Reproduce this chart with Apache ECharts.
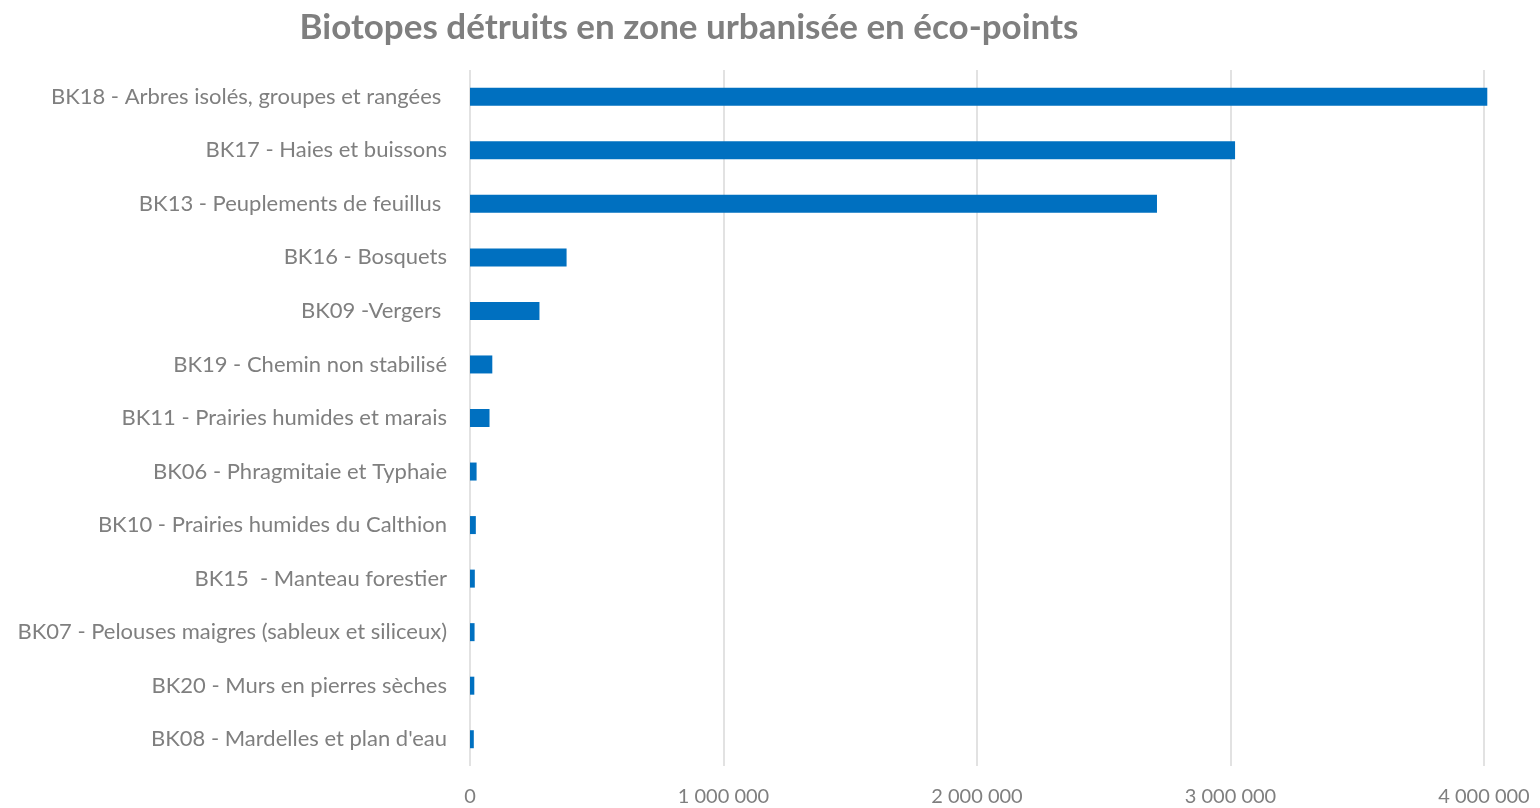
<!DOCTYPE html>
<html>
<head>
<meta charset="utf-8">
<title>Biotopes détruits en zone urbanisée</title>
<script src="https://cdn.jsdelivr.net/npm/echarts@6/dist/echarts.min.js"></script>
<style>
  html, body { margin: 0; padding: 0; background: #fff; }
  #chart { width: 1540px; height: 808px; }
</style>
</head>
<body>
<div id="chart"></div>
<script>
// categories from top to bottom
var categories = [
    'BK18 - Arbres isolés, groupes et rangées ',
    'BK17 - Haies et buissons',
    'BK13 - Peuplements de feuillus ',
    'BK16 - Bosquets',
    'BK09 -Vergers ',
    'BK19 - Chemin non stabilisé',
    'BK11 - Prairies humides et marais',
    'BK06 - Phragmitaie et Typhaie',
    'BK10 - Prairies humides du Calthion',
    'BK15  - Manteau forestier',
    'BK07 - Pelouses maigres (sableux et siliceux)',
    'BK20 - Murs en pierres sèches',
    "BK08 - Mardelles et plan d'eau"
];
// eco-points
var ecoPoints = [4013000, 3018000, 2710000, 381000, 274000, 88000, 77000, 26000, 23000, 19000, 18000, 17000, 15000];
var xTicks = [0, 1000000, 2000000, 3000000, 4000000];

var fontFam = 'Lato, "Open Sans", sans-serif';

function fmt(v) {
    return String(v).replace(/\B(?=(\d{3})+(?!\d))/g, ' ');
}

var chart = echarts.init(document.getElementById('chart'));
chart.setOption({
    animation: false,
    backgroundColor: '#fff',
    title: {
        text: 'Biotopes détruits en zone urbanisée en éco-points',
        left: 684,
        textAlign: 'center',
        top: 5,
        textStyle: { color: '#7f7f7f', fontSize: 35, fontWeight: 'bold', fontFamily: fontFam }
    },
    grid: { left: 470, right: 56, top: 70, bottom: 42, containLabel: false },
    xAxis: {
        type: 'value',
        min: xTicks[0],
        max: xTicks[xTicks.length - 1],
        interval: 1000000,
        axisLine: { show: false },
        axisTick: { show: false },
        splitLine: { show: true, lineStyle: { color: '#d9d9d9', width: 1.5 } },
        axisLabel: {
            margin: 21,
            color: '#7f7f7f',
            fontSize: 20,
            fontFamily: fontFam,
            formatter: function (v) { return fmt(v); }
        }
    },
    yAxis: {
        type: 'category',
        data: categories,
        inverse: true,
        axisLine: { show: false },
        axisTick: { show: false },
        axisLabel: { margin: 23, color: '#7f7f7f', fontSize: 22, fontFamily: fontFam }
    },
    series: [{
        type: 'bar',
        data: ecoPoints,
        barWidth: 18,
        clip: false,
        itemStyle: { color: '#0070c0' }
    }]
});
</script>
</body>
</html>
